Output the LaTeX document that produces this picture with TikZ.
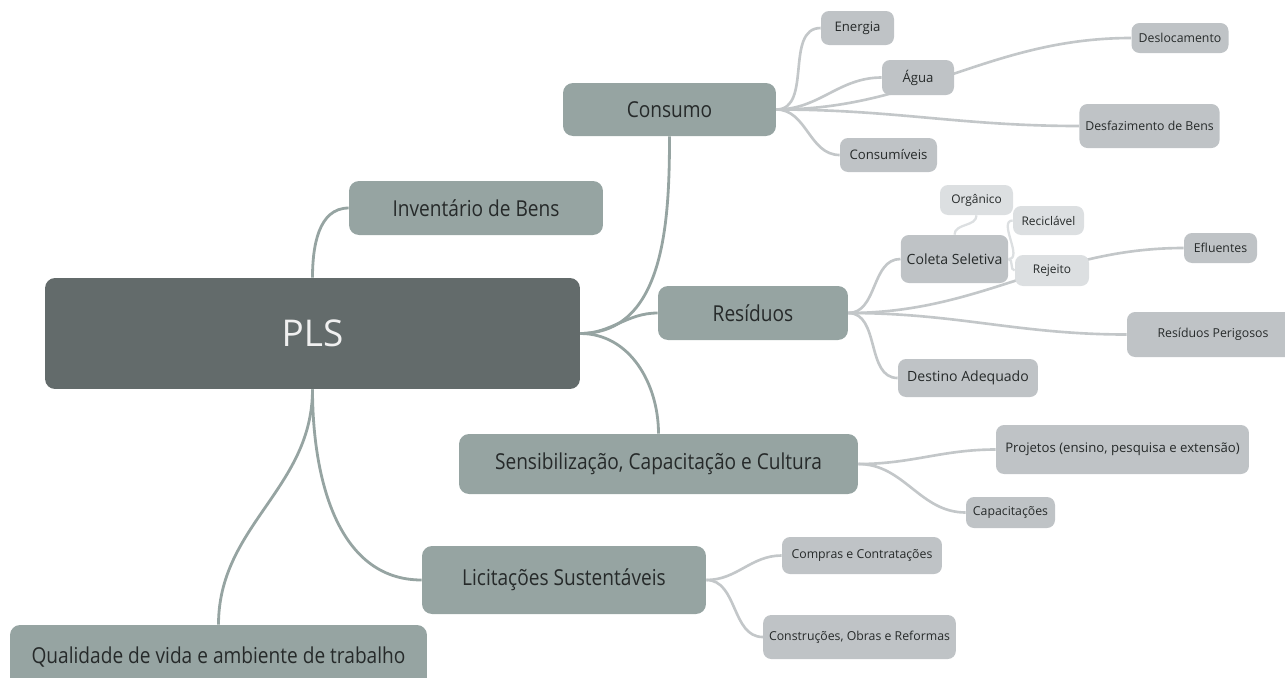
\documentclass[tikz,border=0pt]{standalone}
\usepackage{fontspec}
\setmainfont{Open Sans}
\newfontfamily\topicfont[FakeStretch = 0.87]{Open Sans}
\usetikzlibrary{backgrounds}
\definecolor{rootfill}{HTML}{636B6B}
\definecolor{topicfill}{HTML}{96A4A2}
\definecolor{subfill}{HTML}{BFC3C6}
\definecolor{leaffill}{HTML}{DCDFE1}
\definecolor{subline}{HTML}{C3C7C9}
\definecolor{inktext}{HTML}{262A2A}

\begin{document}
\begin{tikzpicture}[x = 0.02cm, y = -0.02cm,
    root/.style = {fill = rootfill, text = white!94!black, rounded corners = 0.2cm, minimum width = 10.7cm, minimum height = 2.22cm, font = \fontsize{21}{24}\selectfont},
    topic/.style = {fill = topicfill, text = inktext, rounded corners = 0.2cm, font = \topicfont\fontsize{12.5}{15}\selectfont},
    sub/.style = {fill = subfill, text = inktext, rounded corners = 0.16cm, font = \fontsize{7.5}{9}\selectfont},
    leaf/.style = {fill = leaffill, text = inktext, rounded corners = 0.16cm, font = \fontsize{6.8}{8}\selectfont},
    trunk/.style = {draw = topicfill, line width = 1.6pt},
    twig/.style = {draw = subline, line width = 1.5pt},
    leafline/.style = {draw = leaffill, line width = 1.3pt}]
    \useasboundingbox (0,0) rectangle (1285,677);

    \node[root](pls) at (312.5,333.5) {PLS};

    \node[topic, minimum width = 4.26cm, minimum height = 1.06cm](consumo) at (669.5,109.5) {Consumo};
    \node[topic, minimum width = 5.08cm, minimum height = 1.08cm](inventario) at (476,208) {Inventário de Bens};
    \node[topic, minimum width = 3.8cm, minimum height = 1.08cm](residuos) at (753,313) {Resíduos};
    \node[topic, minimum width = 7.98cm, minimum height = 1.2cm](sensib) at (658.5,464) {Sensibilização, Capacitação e Cultura};
    \node[topic, minimum width = 5.68cm, minimum height = 1.36cm](licitacoes) at (564,580) {Licitações Sustentáveis};
    \node[topic, minimum width = 8.34cm, minimum height = 1.3cm](qualidade) at (218.5,657.5) {Qualidade de vida e ambiente de trabalho};

    \node[sub, minimum width = 1.46cm, minimum height = 0.68cm](energia) at (857.5,28) {Energia};
    \node[sub, minimum width = 1.44cm, minimum height = 0.7cm](agua) at (918,77.5) {Água};
    \node[sub, minimum width = 1.94cm, minimum height = 0.6cm, font = \fontsize{7}{8}\selectfont](desloc) at (1180,38) {Deslocamento};
    \node[sub, minimum width = 2.78cm, minimum height = 0.88cm, font = \fontsize{7}{8}\selectfont](desfaz) at (1149.5,126) {Desfazimento de Bens};
    \node[sub, minimum width = 1.94cm, minimum height = 0.68cm](consumiveis) at (888.5,155) {Consumíveis};

    \node[sub, minimum width = 2.14cm, minimum height = 0.96cm, font = \fontsize{8}{9}\selectfont](coleta) at (954.5,259) {Coleta Seletiva};
    \node[leaf, minimum width = 1.46cm, minimum height = 0.6cm](organico) at (976.5,200) {Orgânico};
    \node[leaf, minimum width = 1.42cm, minimum height = 0.58cm](reciclavel) at (1048.5,220.5) {Reciclável};
    \node[leaf, minimum width = 1.48cm, minimum height = 0.62cm](rejeito) at (1052,270.5) {Rejeito};
    \node[sub, minimum width = 1.46cm, minimum height = 0.6cm, font = \fontsize{7}{8}\selectfont](efluentes) at (1220.5,248) {Efluentes};
    \node[sub, minimum width = 3.44cm, minimum height = 0.9cm, font = \fontsize{7}{8}\selectfont](perigosos) at (1213,334.5) {Resíduos Perigosos};
    \node[sub, minimum width = 2.8cm, minimum height = 0.76cm, font = \fontsize{8}{9}\selectfont](destino) at (968,378) {Destino Adequado};

    \node[sub, minimum width = 5.06cm, minimum height = 0.98cm, font = \fontsize{7.5}{9}\selectfont](projetos) at (1122.5,449.5) {Projetos (ensino, pesquisa e extensão)};
    \node[sub, minimum width = 1.78cm, minimum height = 0.62cm, font = \fontsize{7}{8}\selectfont](capacitacoes) at (1010.5,512.5) {Capacitações};

    \node[sub, minimum width = 3.2cm, minimum height = 0.74cm, font = \fontsize{7}{8}\selectfont](compras) at (862,555.5) {Compras e Contratações};
    \node[sub, minimum width = 3.82cm, minimum height = 0.88cm, font = \fontsize{7}{8}\selectfont](construcoes) at (859.5,637) {Construções, Obras e Reformas};

    % branches go under the boxes
    \begin{scope}[on background layer]
    \draw[trunk] (pls.north) to[out = 90, in = 180] (inventario.west);
    \draw[trunk] (pls.east) to[out = 0, in = -90] (consumo.south);
    \draw[trunk] (pls.east) to[out = 0, in = 180] (residuos.west);
    \draw[trunk] (pls.east) to[out = 0, in = 90] (sensib.north);
    \draw[trunk] (pls.south) to[out = -90, in = 180] (licitacoes.west);
    \draw[trunk] (pls.south) to[out = -90, in = 90] (qualidade.north);

    \foreach \kid in {energia, agua, desloc, desfaz, consumiveis}
        \draw[twig] (consumo.east) to[out = 0, in = 180] (\kid.west);
    \foreach \kid in {coleta, efluentes, perigosos, destino}
        \draw[twig] (residuos.east) to[out = 0, in = 180] (\kid.west);
    \foreach \kid in {projetos, capacitacoes}
        \draw[twig] (sensib.east) to[out = 0, in = 180] (\kid.west);
    \foreach \kid in {compras, construcoes}
        \draw[twig] (licitacoes.east) to[out = 0, in = 180] (\kid.west);

    \draw[leafline] (coleta.north) to[out = 90, in = -90] (organico.south);
    \draw[leafline] (coleta.east) to[out = 0, in = 180] (reciclavel.west);
    \draw[leafline] (coleta.east) to[out = 0, in = 180] (rejeito.west);
    \end{scope}
\end{tikzpicture}
\end{document}
